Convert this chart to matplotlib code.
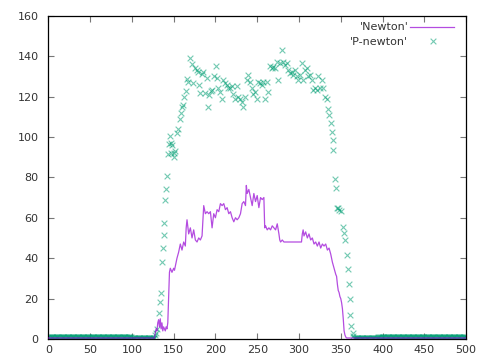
import matplotlib
matplotlib.use("Agg")
import matplotlib.pyplot as plt

# ---- Data: 'Newton' (line) ----
newton_x = [0, 127, 128, 129, 130, 131, 132, 133, 134, 135, 136, 137, 138, 139, 140, 141, 142, 143,
            144, 145, 146, 148, 150, 151, 152, 154, 156, 158, 160, 162, 164, 165, 166, 168,
            170, 172, 174, 176, 178, 180, 182, 184, 186, 188, 190, 192, 194, 196, 198, 200,
            202, 204, 206, 208, 210, 212, 214, 216, 218, 220, 222, 224, 226, 228, 230, 232,
            234, 236, 237, 238, 240, 242, 244, 246, 248, 250, 252, 254, 256, 258, 259, 260,
            262, 264, 266, 268, 270, 272, 274, 276, 277, 278, 280, 282, 284, 290, 296, 300,
            303, 304, 305, 306, 308, 310, 312, 314, 316, 318, 320, 322, 324, 326, 328, 330,
            332, 334, 336, 338, 340, 342, 344, 345, 346, 347, 348, 349, 350, 351, 352, 353,
            354, 355, 356, 357, 358, 360, 500]
newton_y = [0.5, 0.5, 3, 5, 4, 8, 9.5, 6, 10, 5, 8, 4, 6, 5, 4, 6, 5, 8,
            20, 33, 35, 33, 35, 34, 36, 40, 43, 47, 44, 48, 46, 55, 59, 52,
            55, 50, 54, 49, 48, 50, 49, 51, 66, 62, 63, 62, 63, 55, 62, 60,
            64, 63, 67, 66, 67, 64, 65, 62, 63, 60, 58, 60, 59, 60, 62, 67,
            68, 66, 76, 72, 74, 70, 66, 72, 68, 71, 65, 70, 69, 70, 55, 56,
            54, 55, 54, 56, 55, 54, 57, 52, 49, 48, 49, 48, 48, 48, 48, 48,
            48, 52, 54, 51, 53, 50, 52, 49, 50, 47, 48, 46, 48, 45, 47, 46,
            47, 44, 45, 42, 38, 35, 32, 31, 27, 24, 23, 21, 20, 18, 15, 10,
            4, 2, 1, 0.5, 0.5, 0.5, 0.5]

# ---- Data: 'P-newton' (points) ----
pn_x = [128, 129, 130, 132, 134, 135, 136, 137, 138, 139, 140, 140.5, 141.7, 143, 144.5, 146, 146.5,
        147, 148, 150, 150.5, 152, 154, 155.6, 157.6, 158.4, 160, 161, 162.4, 164.4, 165.6,
        167.6, 169.6, 171.6, 173.6, 175.6, 177.6, 179.6, 180.8, 181.6, 183.6, 185.6, 187.6,
        189.5, 191.5, 192.7, 194.3, 196.3, 198.3, 200.3, 201.5, 203.5, 205.5, 207.5, 209.5,
        211.5, 213.5, 215.5, 217.5, 219.5, 221.5, 223.5, 225.5, 227.5, 229.5, 231.5, 233.5,
        235.5, 237.4, 239.4, 241.4, 243.4, 245.4, 247.4, 249.4, 251.4, 253.4, 255.4, 257.4,
        259.4, 261.4, 263.4, 265.4, 267.4, 269.4, 271.4, 273.4, 275.4, 277.4, 279.4, 281.4,
        283.4, 285.4, 287.4, 289.4, 291.4, 293.4, 295.4, 297.3, 299.3, 301.3, 303.3, 305.3,
        307.3, 309.3, 311.3, 313.3, 315.3, 317.3, 319.3, 321.3, 323.3, 325.3, 327.3, 329.3,
        331.2, 333.2, 335.2, 336.4, 338.4, 339.2, 340.4, 341.2, 343.2, 344.4, 346, 347.2, 348.4,
        350, 352.4, 354, 355.5, 357, 358.3, 359.5, 360.7, 361.5, 362.7, 364.3, 365]
pn_y = [2, 3, 5, 12.7, 18.5, 22.6, 38, 45, 51.5, 57.6, 69, 74, 80.7, 91.4, 96.4, 100.5, 92,
        97, 96, 92, 90, 93, 102, 104, 109, 111.7, 115, 116, 120, 122.5, 128.7,
        127.4, 139, 136, 126.5, 134, 133, 132, 125.7, 121.6, 131, 132, 121.6,
        129, 115, 120.6, 122.9, 123, 130, 135, 129, 124, 122, 119, 128,
        126.5, 125.7, 124, 124, 125, 121, 119, 125, 120, 119, 117.5, 115,
        120, 128, 130.7, 127.4, 124, 121, 122.4, 119, 127.4, 126.5, 125.7, 127.4,
        119, 127, 122.4, 135, 134, 134.8, 134, 137, 128, 136.5, 143, 137,
        135.6, 136.5, 133, 131.5, 132.3, 130.7, 133, 130, 128, 130.7, 136.5, 128,
        133, 134, 130, 130.7, 128, 123, 124, 123, 130, 124, 128, 124,
        120, 119, 114, 111, 106.8, 102.6, 98.5, 93.6, 79, 74.6, 64.7, 65, 63.9,
        63.5, 55.6, 52.3, 49, 41.6, 34.5, 27.2, 19.6, 12, 6.4, 2.8, 1.5]

# baseline band of P-newton points (one point per x unit outside the active region)
pn_base_segments = [(0, 100, 1.0), (100, 128, 0.4), (366, 395, 0.4), (395, 501, 1.0)]

xticks = [0, 50, 100, 150, 200, 250, 300, 350, 400, 450, 500]
yticks = [0, 20, 40, 60, 80, 100, 120, 140, 160]

fig = plt.figure(figsize=(4.85, 3.58), dpi=100)
ax = fig.add_axes([0.0996, 0.0531, 0.8614, 0.9031])

green = "#009e73"
purple = "#9400d3"
msize = 17

bx, by = [], []
for a, b, v in pn_base_segments:
    for xi in range(a, b):
        bx.append(xi)
        by.append(v)
ax.scatter(bx, by, marker="x", s=msize, color=green, linewidths=0.8, alpha=0.6, zorder=2)
ax.scatter(pn_x, pn_y, marker="x", s=msize, color=green, linewidths=0.8, alpha=0.55, zorder=2)
ax.plot(newton_x, newton_y, color=purple, lw=0.9, alpha=0.7, zorder=3)

ax.set_xlim(0, 500)
ax.set_ylim(0, 160)
ax.set_xticks(xticks)
ax.set_yticks(yticks)
ax.tick_params(direction="in", length=4, width=0.8, color="#777777", top=True, right=True,
               labelsize=8, labelcolor="#333333")
ax.tick_params(axis="x", pad=4)
ax.tick_params(axis="y", pad=7)
for s in ax.spines.values():
    s.set_linewidth(0.9)
    s.set_color("black")

# legend (gnuplot style: right-aligned text, then sample)
ax.text(0.862, 0.965, "'Newton'", transform=ax.transAxes, ha="right", va="center",
        fontsize=8, color="#333333")
ax.plot([0.865, 0.970], [0.965, 0.965], transform=ax.transAxes, color=purple, lw=0.9, alpha=0.7)
ax.text(0.862, 0.918, "'P-newton'", transform=ax.transAxes, ha="right", va="center",
        fontsize=8, color="#333333")
ax.scatter([0.921], [0.922], transform=ax.transAxes, marker="x", s=msize, color=green,
           linewidths=0.8, alpha=0.55)

fig.savefig("out.png", dpi=100)
